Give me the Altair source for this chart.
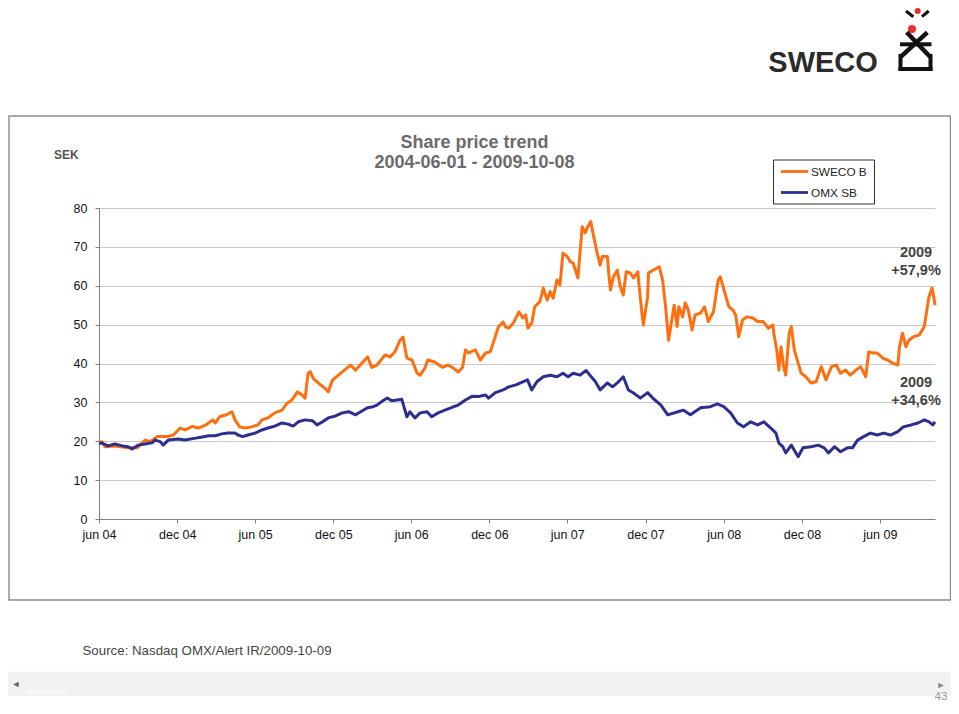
import altair as alt
import pandas as pd

# ---------------- data ----------------
SERIES = ["SWECO B", "OMX SB"]
COLORS = ["#FF6F0F", "#2E2E8F"]

SWECO_DATES = [
    "2004-06-01", "2004-06-08", "2004-06-15", "2004-07-08", "2004-08-08", "2004-08-29", "2004-09-17", "2004-09-29", "2004-10-15", "2004-11-08", "2004-11-22", "2004-12-08", "2004-12-19",
    "2005-01-06", "2005-01-19", "2005-02-06", "2005-02-22", "2005-02-28", "2005-03-10", "2005-03-26", "2005-04-08", "2005-04-15", "2005-04-26",
    "2005-05-08", "2005-05-24", "2005-06-08", "2005-06-17", "2005-07-01", "2005-07-17", "2005-08-03", "2005-08-15", "2005-08-26", "2005-09-08",
    "2005-09-19", "2005-09-26", "2005-10-03", "2005-10-08", "2005-10-15", "2005-11-01", "2005-11-13", "2005-11-19", "2005-11-29", "2005-12-13",
    "2006-01-10", "2006-01-22", "2006-02-19", "2006-03-01", "2006-03-13", "2006-04-01", "2006-04-13", "2006-04-24", "2006-05-06", "2006-05-13",
    "2006-05-17", "2006-05-22", "2006-06-03", "2006-06-15", "2006-06-22", "2006-07-03", "2006-07-10", "2006-07-26", "2006-08-13", "2006-08-26",
    "2006-09-08", "2006-09-19", "2006-09-29", "2006-10-06", "2006-10-13", "2006-10-29", "2006-11-10", "2006-11-22", "2006-12-03", "2006-12-10", "2006-12-22",
    "2007-01-02", "2007-01-08", "2007-01-15", "2007-01-26", "2007-02-08", "2007-02-17", "2007-02-24", "2007-03-01", "2007-03-10", "2007-03-17",
    "2007-03-29", "2007-04-06", "2007-04-15", "2007-04-22", "2007-04-29", "2007-05-08", "2007-05-15", "2007-05-22", "2007-06-01", "2007-06-08",
    "2007-06-15", "2007-06-26", "2007-07-06", "2007-07-13", "2007-07-19", "2007-07-26", "2007-08-01", "2007-08-10", "2007-08-17", "2007-08-22",
    "2007-09-03", "2007-09-06", "2007-09-10", "2007-09-17", "2007-09-26", "2007-10-03", "2007-10-10", "2007-10-17", "2007-10-26", "2007-11-03",
    "2007-11-13", "2007-11-17", "2007-11-24", "2007-11-26", "2007-12-06", "2007-12-08", "2007-12-19",
    "2008-01-02", "2008-01-10", "2008-01-17", "2008-01-24", "2008-01-29", "2008-02-06", "2008-02-13", "2008-02-17", "2008-02-26", "2008-03-03",
    "2008-03-10", "2008-03-19", "2008-03-26", "2008-04-08", "2008-04-17", "2008-04-26", "2008-05-08", "2008-05-19", "2008-05-24", "2008-06-06",
    "2008-06-13", "2008-06-22", "2008-06-29", "2008-07-06", "2008-07-15", "2008-07-26", "2008-08-08", "2008-08-19", "2008-09-01", "2008-09-13",
    "2008-09-24", "2008-09-26", "2008-10-03", "2008-10-08", "2008-10-13", "2008-10-19", "2008-10-24", "2008-11-01", "2008-11-06", "2008-11-10",
    "2008-11-13", "2008-11-22", "2008-11-29", "2008-12-10", "2008-12-22",
    "2009-01-03", "2009-01-15", "2009-01-26", "2009-02-08", "2009-02-19", "2009-03-01", "2009-03-13", "2009-03-24", "2009-04-06", "2009-04-17",
    "2009-04-29", "2009-05-06", "2009-05-15", "2009-05-26", "2009-06-08", "2009-06-19", "2009-07-01", "2009-07-13", "2009-07-17", "2009-07-24",
    "2009-08-01", "2009-08-08", "2009-08-19", "2009-09-01", "2009-09-13", "2009-09-19", "2009-09-24", "2009-10-01", "2009-10-05", "2009-10-08",
]
SWECO_VALUES = [
    19.8, 19.9, 18.6, 18.8, 18.3, 18.3, 20.3, 19.9, 21.2, 21.2, 21.6, 23.4, 22.9,
    23.8, 23.4, 24.2, 25.5, 24.7, 26.3, 26.8, 27.6, 25.5, 23.7,
    23.4, 23.7, 24.2, 25.5, 26.0, 27.3, 28.0, 29.8, 30.6, 32.7,
    31.9, 31.1, 37.5, 37.9, 36.2, 34.5, 33.5, 32.7, 35.7, 37.0,
    39.6, 38.3, 41.7, 39.0, 39.6, 42.2, 41.7, 43.0, 46.0, 46.8,
    44.3, 41.4, 40.9, 37.5, 37.0, 38.8, 40.9, 40.4, 39.0, 39.6,
    38.8, 37.8, 39.0, 43.5, 42.7, 43.5, 40.9, 42.7, 43.0, 45.3, 49.4,
    50.7, 49.4, 49.1, 50.4, 53.3, 51.7, 52.5, 49.1, 50.4, 54.6,
    55.9, 59.4, 56.3, 58.5, 56.8, 61.5, 60.2, 68.4, 67.5, 66.2,
    65.8, 62.0, 75.2, 73.6, 75.2, 76.5, 73.1, 68.4, 65.3, 67.5,
    67.5, 63.3, 58.9, 62.3, 64.0, 59.8, 57.6, 63.6, 63.3, 62.0,
    63.6, 58.9, 51.7, 49.9, 57.2, 63.3, 64.0,
    64.9, 61.5, 54.6, 46.0, 49.5, 55.0, 49.5, 54.6, 52.0, 55.6,
    53.8, 48.6, 52.5, 53.0, 54.6, 50.8, 53.3, 61.5, 62.3, 57.2,
    54.6, 53.8, 52.5, 46.9, 51.2, 52.0, 51.7, 50.8, 50.8, 49.1,
    49.9, 47.8, 43.5, 38.3, 44.3, 39.2, 37.0, 47.8, 49.5, 46.0,
    43.5, 40.1, 37.5, 36.6, 35.0,
    35.3, 39.2, 35.8, 39.2, 39.6, 37.5, 38.3, 37.0, 38.3, 39.2,
    36.6, 43.0, 42.7, 42.7, 41.4, 40.9, 40.1, 39.6, 44.3, 47.8,
    44.3, 46.0, 46.9, 47.3, 49.5, 53.8, 57.2, 59.4, 57.2, 55.0,
]

OMX_DATES = [
    "2004-06-01", "2004-06-08", "2004-06-22", "2004-07-08", "2004-07-26", "2004-08-08", "2004-08-17", "2004-09-01", "2004-09-17", "2004-10-03",
    "2004-10-10", "2004-10-22", "2004-10-29", "2004-11-10", "2004-12-03", "2004-12-19",
    "2005-01-13", "2005-01-29", "2005-02-13", "2005-02-28", "2005-03-15", "2005-03-29", "2005-04-15", "2005-04-22", "2005-05-03", "2005-05-15",
    "2005-06-01", "2005-06-17", "2005-07-01", "2005-07-17", "2005-08-03", "2005-08-17", "2005-08-29", "2005-09-10", "2005-09-26", "2005-10-13",
    "2005-10-24", "2005-11-06", "2005-11-19", "2005-12-06", "2005-12-22",
    "2006-01-06", "2006-01-22", "2006-02-03", "2006-02-19", "2006-03-01", "2006-03-13", "2006-03-24", "2006-04-06", "2006-04-17", "2006-04-29",
    "2006-05-10", "2006-05-15", "2006-05-22", "2006-05-29", "2006-06-10", "2006-06-22", "2006-07-08", "2006-07-19", "2006-08-03", "2006-08-19",
    "2006-09-06", "2006-09-19", "2006-10-06", "2006-10-22", "2006-11-06", "2006-11-22", "2006-11-29", "2006-12-15",
    "2007-01-02", "2007-01-15", "2007-02-01", "2007-02-17", "2007-02-28", "2007-03-10", "2007-03-22", "2007-04-06", "2007-04-22", "2007-05-08",
    "2007-05-22", "2007-06-03", "2007-06-15", "2007-07-01", "2007-07-15", "2007-07-24", "2007-08-06", "2007-08-17", "2007-09-03", "2007-09-15",
    "2007-09-26", "2007-10-10", "2007-10-22", "2007-11-03", "2007-11-19", "2007-12-06", "2007-12-19",
    "2008-01-06", "2008-01-22", "2008-02-15", "2008-02-28", "2008-03-15", "2008-04-08", "2008-05-01", "2008-05-17", "2008-06-01", "2008-06-17",
    "2008-07-03", "2008-07-17", "2008-08-03", "2008-08-19", "2008-09-03", "2008-09-19", "2008-10-01", "2008-10-08", "2008-10-17", "2008-10-24",
    "2008-11-06", "2008-11-13", "2008-11-22", "2008-12-03", "2008-12-22",
    "2009-01-08", "2009-01-22", "2009-02-01", "2009-02-15", "2009-03-01", "2009-03-17", "2009-03-29", "2009-04-10", "2009-04-24", "2009-05-10",
    "2009-05-26", "2009-06-10", "2009-06-26", "2009-07-13", "2009-07-26", "2009-08-13", "2009-08-29", "2009-09-13", "2009-09-24", "2009-10-03",
    "2009-10-08",
]
OMX_VALUES = [
    19.5, 19.5, 18.8, 19.3, 18.8, 18.6, 18.0, 19.0, 19.3, 19.6,
    20.3, 19.9, 19.0, 20.3, 20.6, 20.3,
    20.8, 21.1, 21.4, 21.4, 21.9, 22.1, 22.1, 21.6, 21.2, 21.6,
    22.1, 22.9, 23.4, 23.9, 24.7, 24.4, 23.9, 25.0, 25.5, 25.3,
    24.2, 25.0, 26.0, 26.5, 27.3,
    27.6, 26.8, 27.6, 28.6, 28.8, 29.3, 30.2, 31.1, 30.4, 30.6,
    30.8, 28.9, 26.3, 27.6, 26.0, 27.3, 27.6, 26.3, 27.3, 28.0,
    28.8, 29.3, 30.6, 31.6, 31.5, 31.9, 31.1, 32.5,
    33.2, 34.0, 34.5, 35.3, 35.8, 33.2, 35.3, 36.6, 37.0, 36.6,
    37.5, 36.6, 37.5, 37.0, 38.2, 37.0, 35.3, 33.2, 35.0, 34.0,
    35.0, 36.6, 33.2, 32.4, 31.1, 32.5, 31.0,
    29.3, 26.8, 27.6, 28.0, 26.8, 28.6, 28.9, 29.6, 28.9, 27.3,
    24.7, 23.7, 25.0, 24.2, 25.0, 23.4, 22.1, 19.5, 18.6, 17.0,
    19.0, 17.7, 16.0, 18.3, 18.6,
    19.0, 18.3, 17.0, 18.6, 17.3, 18.3, 18.3, 20.3, 21.2, 22.1,
    21.6, 22.1, 21.6, 22.5, 23.7, 24.2, 24.7, 25.5, 25.0, 24.2,
    25.0,
]

Y_TICKS = [0, 10, 20, 30, 40, 50, 60, 70, 80]
X_TICK_DATES = ["2004-06-01", "2004-12-01", "2005-06-01", "2005-12-01", "2006-06-01", "2006-12-01",
                "2007-06-01", "2007-12-01", "2008-06-01", "2008-12-01", "2009-06-01"]
X_TICK_LABELS = ["jun 04", "dec 04", "jun 05", "dec 05", "jun 06", "dec 06",
                 "jun 07", "dec 07", "jun 08", "dec 08", "jun 09"]
X_DOMAIN = ["2004-06-01", "2009-10-08"]

TITLE_LINES = ["Share price trend", "2004-06-01 - 2009-10-08"]
UNIT = "SEK"
NOTES = [["2009", "+57,9%"], ["2009", "+34,6%"]]
SOURCE = "Source: Nasdaq OMX/Alert IR/2009-10-09"
PAGE_NO = "43"
FOOTER_TAG = "Share price"
LOGO_TEXT = "SWECO"

assert len(SWECO_DATES) == len(SWECO_VALUES)
assert len(OMX_DATES) == len(OMX_VALUES)

# ---------------- build ----------------
FONT = "Liberation Sans, Arial, sans-serif"


def ms(s):
    return int(pd.Timestamp(s, tz="UTC").value // 10**6)


df = pd.DataFrame({
    "date": SWECO_DATES + OMX_DATES,
    "value": SWECO_VALUES + OMX_VALUES,
    "series": [SERIES[0]] * len(SWECO_DATES) + [SERIES[1]] * len(OMX_DATES),
})

tick_ms = [ms(d) for d in X_TICK_DATES]
first_year = int(X_TICK_DATES[0][:4])
# half-year ticks: index = 2*(year - first) + (december ? 1 : 0)
label_expr = "[{}][2*(utcyear(datum.value)-{}) + (utcmonth(datum.value) >= 9 ? 1 : 0)]".format(
    ",".join("'%s'" % t for t in X_TICK_LABELS), first_year)

one = pd.DataFrame({"k": [0]})

lines = alt.Chart(df).mark_line(strokeWidth=3, strokeJoin="round").encode(
    x=alt.X("date:T",
            scale=alt.Scale(type="utc", domain=[ms(X_DOMAIN[0]), ms(X_DOMAIN[1])], nice=False),
            axis=alt.Axis(values=tick_ms, labelExpr=label_expr, title=None, grid=False,
                          domainColor="#808080", tickColor="#808080", tickSize=4,
                          labelPadding=5, labelFontSize=12.5, labelColor="#111",
                          labelFont=FONT, labelFlush=False, labelOverlap=False)),
    y=alt.Y("value:Q",
            scale=alt.Scale(domain=[0, 80], nice=False),
            axis=alt.Axis(values=Y_TICKS, title=None, grid=True, gridColor="#c8c8c8",
                          domainColor="#808080", tickColor="#808080", tickSize=4,
                          labelPadding=8, labelFontSize=12.5, labelColor="#111",
                          labelFont=FONT)),
    color=alt.Color("series:N", scale=alt.Scale(domain=SERIES, range=COLORS), legend=None),
    order=alt.Order("date:T"),
)


def text(t, x, y, size, color="#222", weight="normal", align="left",
         baseline="middle", font=FONT):
    return alt.Chart(one).mark_text(
        text=t, fontSize=size, fontWeight=weight, color=color, align=align,
        baseline=baseline, font=font).encode(x=alt.value(x), y=alt.value(y))


def rule(x1, y1, x2, y2, color, width, cap="butt"):
    return alt.Chart(one).mark_rule(color=color, strokeWidth=width, strokeCap=cap).encode(
        x=alt.value(x1), y=alt.value(y1), x2=alt.value(x2), y2=alt.value(y2))


def box(x1, y1, x2, y2, fill=None, stroke=None, width=1):
    kw = {}
    if fill is not None:
        kw["fill"] = fill
    else:
        kw["filled"] = False
    if stroke is not None:
        kw["stroke"] = stroke
        kw["strokeWidth"] = width
    return alt.Chart(one).mark_rect(**kw).encode(
        x=alt.value(x1), x2=alt.value(x2), y=alt.value(y1), y2=alt.value(y2))


def dot(x, y, size, color):
    return alt.Chart(one).mark_circle(size=size, color=color, opacity=1).encode(
        x=alt.value(x), y=alt.value(y))


layers = [
    # outer frame and footer bar
    box(-90, -92, 851.5, 392, stroke="#8a8a8a", width=1.4),
    box(-91, 463.7, 852, 488, fill="#f2f2f2"),
    lines,
    # titles
    text(TITLE_LINES[0], 375.5, -65, 18, color="#6b6b6b", weight="bold", align="center"),
    text(TITLE_LINES[1], 375.5, -44.7, 18, color="#6b6b6b", weight="bold", align="center"),
    text(UNIT, -45, -53.5, 12, color="#555", weight="bold"),
    # legend
    box(674.5, -48, 775.5, -4, fill="white", stroke="#333", width=1),
    rule(682, -36.5, 709, -36.5, COLORS[0], 2.8),
    rule(682, -15.5, 709, -15.5, COLORS[1], 2.8),
    text(SERIES[0], 712, -36.5, 11.8, color="#222"),
    text(SERIES[1], 712, -15.5, 11.8, color="#222"),
    # annotations
    text(NOTES[0][0], 817, 45.3, 14.5, color="#444", weight="bold", align="center"),
    text(NOTES[0][1], 817, 63, 14.5, color="#444", weight="bold", align="center"),
    text(NOTES[1][0], 817, 174.7, 14.5, color="#444", weight="bold", align="center"),
    text(NOTES[1][1], 817, 193, 14.5, color="#444", weight="bold", align="center"),
    # source and footer
    text(SOURCE, -16.5, 443, 13.3, color="#444"),
    text("\u25c4", -83, 476.3, 9, color="#666", align="center"),
    text("\u25ba", 842, 477, 9, color="#888", align="center"),
    text(FOOTER_TAG, -74, 484, 8, color="#ffffff"),
    text(PAGE_NO, 842, 488.5, 11.5, color="#999", align="center"),
    # logo
    text(LOGO_TEXT, 669.3, -136.3, 29, color="#2b2b2b", weight="bold", baseline="alphabetic"),
    dot(818.7, -197, 36, "#e8302c"),
    rule(807, -197, 814.3, -191.3, "#111", 3),
    rule(823, -191.3, 829.7, -197, "#111", 3),
    dot(813, -179, 64, "#e8302c"),
    rule(807.7, -175.7, 831, -151.3, "#111", 4.5),
    rule(828.3, -175.7, 802, -151.3, "#111", 4.5),
    rule(801, -163.7, 832.5, -163.7, "#111", 4),
    rule(801.5, -154, 801.5, -137, "#111", 4),
    rule(831.5, -154, 831.5, -137, "#111", 4),
    rule(799.5, -139, 833.5, -139, "#111", 4),
]

chart = alt.layer(*layers).properties(
    width=836,
    height=311,
    padding={"left": 91, "top": 200, "right": 16, "bottom": 183},
    autosize=alt.AutoSizeParams(type="none"),
    background="white",
).configure_view(stroke=None)

chart.save("out.html", embed_options={"renderer": "svg", "actions": False})
